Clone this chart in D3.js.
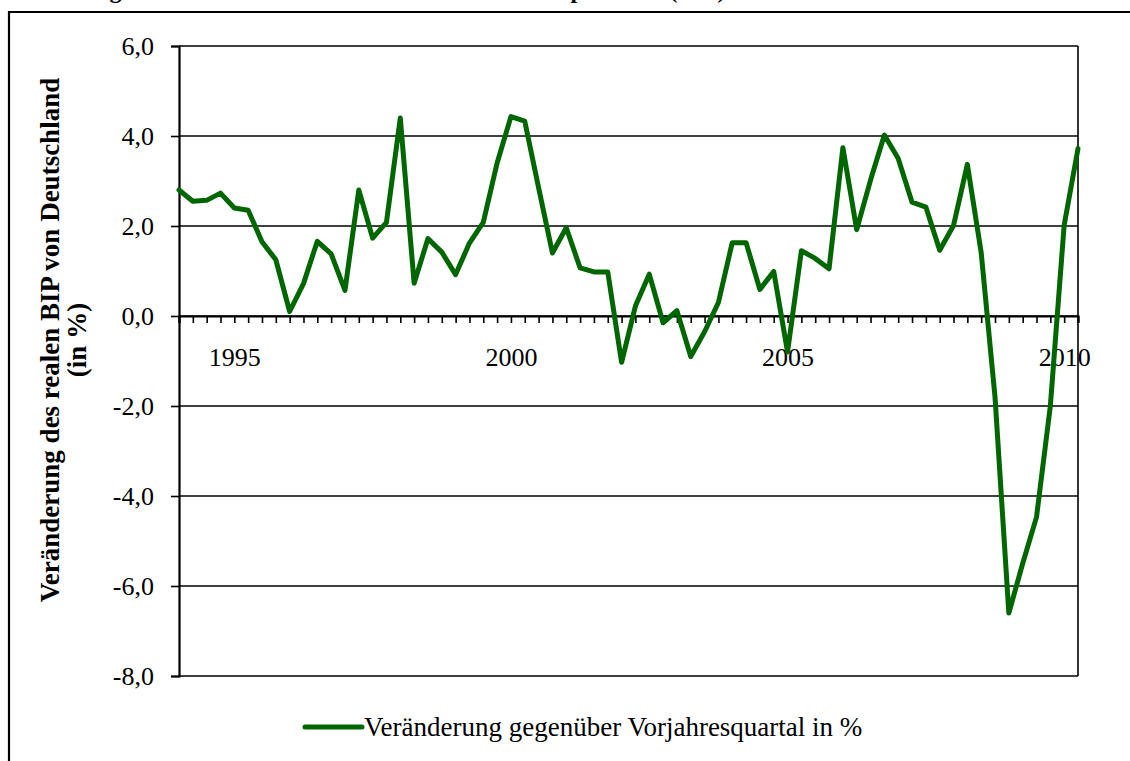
<!DOCTYPE html>
<html>
<head>
<meta charset="utf-8">
<script src="https://cdn.jsdelivr.net/npm/d3@7"></script>
<style>
  body { margin: 0; background: #fff; }
  svg text { font-family: "Liberation Serif", "Times New Roman", serif; fill: #000; }
</style>
</head>
<body>
<div id="chart"></div>
<script>
// Quartale 1994 Q1 .. 2010 Q2
var years = [1994, 1995, 1996, 1997, 1998, 1999, 2000, 2001, 2002, 2003, 2004, 2005, 2006, 2007, 2008, 2009, 2010];
var quarters = [];
years.forEach(function(y) {
    for (var q = 1; q <= 4; q++) {
        if (y === 2010 && q > 2) break;
        quarters.push(y + "Q" + q);
    }
});

// Veränderung gegenüber Vorjahresquartal in %
var values = [
    2.8, 2.55, 2.57, 2.73, 2.4, 2.35, 1.65, 1.25, 0.1, 0.72, 1.66, 1.38,
    0.57, 2.8, 1.73, 2.08, 4.4, 0.73, 1.72, 1.42, 0.92, 1.62, 2.08, 3.4,
    4.43, 4.33, 2.85, 1.4, 1.96, 1.07, 0.98, 0.98, -1.03, 0.22, 0.93, -0.15,
    0.12, -0.9, -0.35, 0.3, 1.63, 1.63, 0.59, 0.99, -0.8, 1.45, 1.28, 1.05,
    3.74, 1.92, 3.02, 4.02, 3.5, 2.53, 2.42, 1.46, 2.01, 3.37, 1.41, -1.8,
    -6.6, -5.5, -4.47, -2.0, 2.02, 3.72
];

var yTicks = [-8, -6, -4, -2, 0, 2, 4, 6];
var labelYears = ["1995Q1", "2000Q1", "2005Q1", "2010Q1"];

var legendLabel = "Veränderung gegenüber Vorjahresquartal in %";
var yTitle1 = "Veränderung  des realen BIP von Deutschland";
var yTitle2 = "(in %)";
var chartTitle = "Abbildung 1: Wachstumsrate des realen Bruttoinlandsprodukts (BIP)";

var data = quarters.map(function(q, i) { return { key: q, value: values[i] }; });

var width = 1130,
    height = 761;

var margin = ({ top: 46, right: 52, bottom: 85, left: 179 }),
    iwidth = width - margin.left - margin.right,
    iheight = height - margin.top - margin.bottom;

var de = d3.formatLocale({ decimal: ",", thousands: ".", grouping: [3], currency: ["", " €"], minus: "-" });
var fmt = de.format(".1f");

var svg = d3.select("#chart")
    .append("svg")
    .attr("width", width)
    .attr("height", height)
    .style("display", "block");

// outer frame (top + left edge of the pasted chart)
svg.append("path")
    .attr("d", "M9," + height + "V12H" + width)
    .attr("fill", "none")
    .attr("stroke", "#000")
    .attr("stroke-width", 2.2);

// title, cut off above the picture like in the original
svg.append("text")
    .attr("x", 12)
    .attr("y", -2)
    .style("font-size", "24px")
    .style("font-weight", "bold")
    .text(chartTitle);

var g = svg.append("g")
    .attr("transform", `translate(${margin.left}, ${margin.top})`);

var x = d3.scalePoint()
    .domain(quarters)
    .range([0, iwidth]);

var y = d3.scaleLinear()
    .domain([-8, 6])
    .range([iheight, 0]);

// gridlines
g.selectAll("line.grid")
    .data(yTicks)
    .enter()
    .append("line")
    .attr("class", "grid")
    .attr("x1", 0)
    .attr("x2", iwidth)
    .attr("y1", function(d) { return y(d); })
    .attr("y2", function(d) { return y(d); })
    .attr("stroke", "#000")
    .attr("stroke-width", 1.6);

// right border
g.append("line")
    .attr("x1", iwidth).attr("x2", iwidth)
    .attr("y1", 0).attr("y2", iheight)
    .attr("stroke", "#000")
    .attr("stroke-width", 1.6);

// y axis
var yAxis = g.append("g")
    .call(d3.axisLeft(y).tickValues(yTicks).tickSize(8).tickPadding(17).tickFormat(fmt));
yAxis.select(".domain").attr("stroke-width", 2.2);
yAxis.selectAll(".tick line").attr("stroke-width", 1.6);
yAxis.selectAll("text")
    .style("font-size", "26px")
    .attr("font-family", null)
    .attr("dy", "0.34em");

// x axis on the zero line
var xAxis = g.append("g")
    .attr("transform", `translate(0, ${y(0)})`)
    .call(d3.axisBottom(x).tickSize(7).tickPadding(25)
        .tickFormat(function(d) { return labelYears.indexOf(d) >= 0 ? d.slice(0, 4) : ""; }));
xAxis.select(".domain").attr("stroke-width", 2.2);
xAxis.selectAll(".tick line").attr("stroke-width", 1.6);
xAxis.selectAll("text")
    .style("font-size", "26px")
    .attr("font-family", null);

// the line
var line = d3.line()
    .x(function(d) { return x(d.key); })
    .y(function(d) { return y(d.value); });

g.append("path")
    .datum(data)
    .attr("d", line)
    .attr("fill", "none")
    .attr("stroke", "#006600")
    .attr("stroke-width", 5)
    .attr("stroke-linejoin", "round")
    .attr("stroke-linecap", "round");

// y axis title
var yt = svg.append("text")
    .attr("transform", "translate(0, 340) rotate(-90)")
    .attr("text-anchor", "middle")
    .style("font-size", "27px")
    .style("font-weight", "bold");
yt.append("tspan").attr("x", 0).attr("y", 59).text(yTitle1);
yt.append("tspan").attr("x", 0).attr("y", 86).text(yTitle2);

// legend
var lg = svg.append("g").attr("transform", "translate(305, 727)");
lg.append("line")
    .attr("x1", 0).attr("x2", 57)
    .attr("stroke", "#006600")
    .attr("stroke-width", 5)
    .attr("stroke-linecap", "round");
lg.append("text")
    .attr("x", 59)
    .attr("dy", "0.34em")
    .style("font-size", "27px")
    .text(legendLabel);
</script>
</body>
</html>
